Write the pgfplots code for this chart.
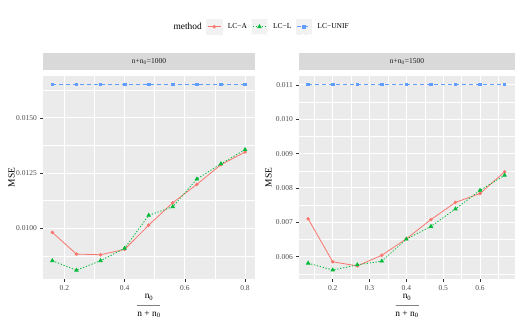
\documentclass[border=0pt]{standalone}
\usepackage{pgfplots}
\pgfplotsset{compat=1.18}
\usepackage{fontspec}
\setmainfont{Liberation Serif}

\definecolor{panelbg}{HTML}{EBEBEB}
\definecolor{stripbg}{HTML}{D9D9D9}
\definecolor{striptext}{HTML}{1A1A1A}
\definecolor{ticktext}{HTML}{4D4D4D}
\definecolor{tickc}{HTML}{333333}
\definecolor{keybg}{HTML}{F2F2F2}
\definecolor{cA}{HTML}{F8766D}
\definecolor{cL}{HTML}{00BA38}
\definecolor{cU}{HTML}{619CFF}

\newcommand{\smallf}{\fontsize{7.5}{9}\selectfont}
\newcommand{\bigf}{\fontsize{9.4}{8.65}\selectfont}
\newcommand{\fraclabel}{\bigf\begin{tabular}{@{}c@{}}n\textsubscript{0}\\\textcolor{gray}{\rule[1.2pt]{23pt}{1.1pt}}\\n + n\textsubscript{0}\end{tabular}}

\pgfplotsset{
  gg/.style={
    scale only axis, height=203.6pt,
    axis background/.style={fill=panelbg},
    axis line style={draw=none},
    tick align=outside, tick pos=left,
    major tick length=2.6pt, minor tick length=0pt,
    tick style={color=tickc, line width=0.5pt},
    grid=both,
    major grid style={white, line width=1pt},
    minor grid style={white, line width=0.5pt},
    ticklabel style={font=\smallf, text=ticktext},
    scaled y ticks=false,
    ylabel={\bigf MSE},
    xlabel={\fraclabel},
    xlabel style={at={(axis description cs:0.5,-0.1297)}, anchor=center},
    title style={at={(0.5,1)}, anchor=south, yshift=0pt, fill=stripbg,
      minimum height=16.7pt, inner sep=0pt, text=striptext, font=\smallf},
    legend image code/.code={
      \fill[keybg] (0pt,-7.5pt) rectangle (15.6pt,7.5pt);
      \draw[mark repeat=2,mark phase=2,#1] plot coordinates {(1.2pt,0pt) (7.8pt,0pt) (14.4pt,0pt)};
    },
  },
  sA/.style={color=cA, line width=0.8pt, mark=*, mark size=1.3pt},
  sL/.style={color=cL, line width=0.8pt, dash pattern=on 1.3pt off 1.7pt, mark=triangle*, mark size=1.9pt, mark options={solid}},
  sU/.style={color=cU, line width=0.8pt, dash pattern=on 4pt off 3pt, mark=square*, mark size=1.3pt, mark options={solid}},
}

\begin{document}
\begin{tikzpicture}
\useasboundingbox (0pt,0pt) rectangle (520pt,-325pt);

\begin{axis}[gg, at={(43pt,-279.3pt)}, anchor=south west, width=212pt,
  title={n+n\textsubscript{0}=1000}, title style={minimum width=212pt},
  xmin=0.129, xmax=0.833, ymin=0.0077, ymax=0.0169,
  xtick={0.2,0.4,0.6,0.8}, xticklabels={0.2,0.4,0.6,0.8},
  minor xtick={0.3,0.5,0.7},
  ytick={0.01,0.0125,0.015}, yticklabels={0.0100,0.0125,0.0150},
  minor ytick={0.00875,0.01125,0.01375,0.01625},
  ylabel style={at={(axis description cs:-0.1486,0.5)}, anchor=center},
  legend columns=4,
  legend style={at={(1.0165,1.2407)}, anchor=center, draw=none, fill=none,
    inner sep=0pt, nodes={inner sep=0pt, font=\smallf},
    /tikz/every odd column/.append style={column sep=5.4pt},
    /tikz/every even column/.append style={column sep=4.2pt}},
]
\addlegendimage{empty legend}
\addlegendentry{\bigf method}
\addplot[sA] coordinates {
  (0.16,0.00982) (0.24,0.00884) (0.32,0.00881) (0.40,0.00905) (0.48,0.01015)
  (0.56,0.01116) (0.64,0.01199) (0.72,0.01288) (0.80,0.01345)
};
\addlegendentry{LC−A}
\addplot[sL] coordinates {
  (0.16,0.00854) (0.24,0.00811) (0.32,0.00854) (0.40,0.00910) (0.48,0.01059)
  (0.56,0.01098) (0.64,0.01223) (0.72,0.01292) (0.80,0.01356)
};
\addlegendentry{LC−L}
\addplot[sU] coordinates {
  (0.16,0.01651) (0.24,0.01651) (0.32,0.01651) (0.40,0.01651) (0.48,0.01651)
  (0.56,0.01651) (0.64,0.01651) (0.72,0.01651) (0.80,0.01651)
};
\addlegendentry{LC−UNIF}
\end{axis}

\begin{axis}[gg, at={(299pt,-279.3pt)}, anchor=south west, width=216pt,
  title={n+n\textsubscript{0}=1500}, title style={minimum width=216pt},
  xmin=0.1084, xmax=0.695, ymin=0.00534, ymax=0.01127,
  xtick={0.2,0.3,0.4,0.5,0.6}, xticklabels={0.2,0.3,0.4,0.5,0.6},
  minor xtick={0.15,0.25,0.35,0.45,0.55,0.65},
  ytick={0.006,0.007,0.008,0.009,0.010,0.011},
  yticklabels={0.006,0.007,0.008,0.009,0.010,0.011},
  minor ytick={0.0055,0.0065,0.0075,0.0085,0.0095,0.0105},
  ylabel style={at={(axis description cs:-0.141,0.5)}, anchor=center},
]
\addplot[sA] coordinates {
  (0.1333,0.00710) (0.2000,0.00585) (0.2667,0.00573) (0.3333,0.00604) (0.4000,0.00652)
  (0.4667,0.00708) (0.5333,0.00758) (0.6000,0.00784) (0.6667,0.00847)
};
\addplot[sL] coordinates {
  (0.1333,0.00581) (0.2000,0.00561) (0.2667,0.00576) (0.3333,0.00587) (0.4000,0.00651)
  (0.4667,0.00688) (0.5333,0.00739) (0.6000,0.00793) (0.6667,0.00837)
};
\addplot[sU] coordinates {
  (0.1333,0.01102) (0.2000,0.01102) (0.2667,0.01102) (0.3333,0.01102) (0.4000,0.01102)
  (0.4667,0.01102) (0.5333,0.01102) (0.6000,0.01102) (0.6667,0.01102)
};
\end{axis}
\end{tikzpicture}
\end{document}
